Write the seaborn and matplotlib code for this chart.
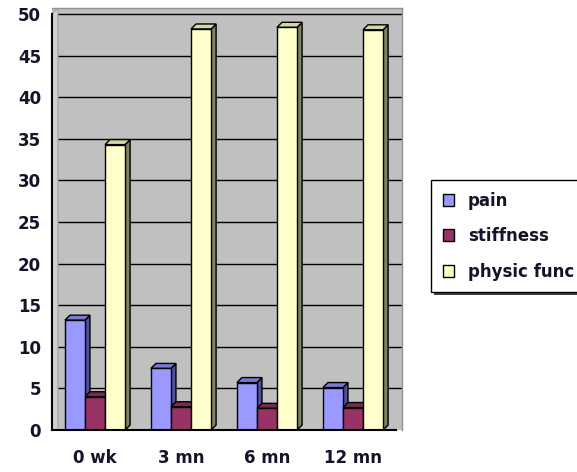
import matplotlib
matplotlib.use("Agg")
import matplotlib.pyplot as plt
from matplotlib.patches import Polygon, Patch
import numpy as np
import pandas as pd
import seaborn as sns

# Follow-up time points and mean scores per outcome
periods = ["0 wk", "3 mn", "6 mn", "12 mn"]
pain = [13.2, 7.4, 5.7, 5.1]
stiffness = [4.0, 2.8, 2.6, 2.7]
physic_func = [34.3, 48.2, 48.4, 48.1]
series_names = ["pain", "stiffness", "physic func"]
y_ticks = [0, 5, 10, 15, 20, 25, 30, 35, 40, 45, 50]

front_colors = ["#9999FF", "#993366", "#FFFFCC"]
side_colors = ["#50509A", "#5C1F3D", "#808066"]
top_colors = ["#7A7AD0", "#7A2952", "#D6D6A8"]

df = pd.DataFrame({
    "period": np.repeat(periods, 3),
    "series": series_names * len(periods),
    "score": [v for trio in zip(pain, stiffness, physic_func) for v in trio],
})

sns.set_theme(style="white")
plt.rcParams["font.family"] = ["DejaVu Sans"]

W, H = 577, 472
fig = plt.figure(figsize=(W / 100, H / 100), dpi=100)
fig.patch.set_facecolor("white")

# plot area (front axis plane starts at x=52, floor at y=430, value 50 at y=14)
left_px, right_px, top_px, bottom_px = 52, 402, 8, 430
ax = fig.add_axes([left_px / W, 1 - bottom_px / H,
                   (right_px - left_px) / W, (bottom_px - top_px) / H])
ax.set_facecolor("#C0C0C0")

sns.barplot(data=df, x="period", y="score", hue="series", order=periods,
            hue_order=series_names, palette=front_colors, saturation=1,
            width=0.7, gap=0, edgecolor="black", linewidth=1.0, legend=False,
            ax=ax, zorder=3)

cat_px = 86.0
px_per_unit = (430 - 14) / 50.0
ax.set_xlim(-0.5, 3.5 + (right_px - left_px - 4 * cat_px) / cat_px)
ax.set_ylim(0, 50 + (14 - top_px) / px_per_unit)

# 3-D depth faces for each bar
dx = 5 / cat_px
dy = 5 / px_per_unit
n_per = len(periods)
for i, bar in enumerate(ax.patches[: 3 * n_per]):
    s = i // n_per
    x0 = bar.get_x()
    w = bar.get_width()
    h = bar.get_height()
    x1 = x0 + w
    z = 3 + s
    bar.set_zorder(z + 0.5)
    side = Polygon([(x1, 0), (x1 + dx, dy), (x1 + dx, h + dy), (x1, h)],
                   closed=True, facecolor=side_colors[s], edgecolor="black",
                   linewidth=1.0, zorder=z)
    top = Polygon([(x0, h), (x0 + dx, h + dy), (x1 + dx, h + dy), (x1, h)],
                  closed=True, facecolor=top_colors[s], edgecolor="black",
                  linewidth=1.0, zorder=z)
    ax.add_patch(side)
    ax.add_patch(top)

# back-wall gridlines
for t in y_ticks[1:]:
    ax.axhline(t, color="black", linewidth=1.0, zorder=1)

# left side wall strip
wall = Polygon([(-0.5, 0), (-0.5 + 6 / cat_px, 0), (-0.5 + 6 / cat_px, ax.get_ylim()[1]),
                (-0.5, 50)], closed=True, facecolor="#CFCFCF", edgecolor="#A0A0A0",
               linewidth=0.8, zorder=1.5)
ax.add_patch(wall)

ax.set_yticks(y_ticks)
ax.set_yticklabels([str(t) for t in y_ticks])
ax.set_xticks(np.arange(-0.5, 4.0, 1.0))
ax.set_xticklabels([])
ax.set_xticks(np.arange(len(periods)), minor=True)
ax.set_xticklabels(periods, minor=True)
ax.set_xlabel("")
ax.set_ylabel("")

ax.tick_params(axis="y", which="major", direction="out", length=5, width=1.2,
               color="black", labelsize=12, labelcolor="#141428", pad=3)
ax.tick_params(axis="x", which="major", direction="out", length=5, width=1.2,
               color="black")
ax.tick_params(axis="x", which="minor", length=0, labelsize=12,
               labelcolor="#141428", pad=14)
for lab in ax.get_yticklabels() + ax.get_xticklabels(minor=True):
    lab.set_fontweight("bold")

for side_name in ["top", "right"]:
    ax.spines[side_name].set_color("#909090")
    ax.spines[side_name].set_linewidth(1.0)
ax.spines["left"].set_color("black")
ax.spines["left"].set_linewidth(1.5)
ax.spines["left"].set_bounds(0, 50)
ax.spines["bottom"].set_color("black")
ax.spines["bottom"].set_linewidth(1.5)
ax.spines["bottom"].set_bounds(-0.5, 3.5)
ax.spines["left"].set_zorder(6)
ax.spines["bottom"].set_zorder(6)

handles = [Patch(facecolor=c, edgecolor="black", linewidth=1.0) for c in front_colors]
leg = fig.legend(handles, series_names, loc="upper left",
                 bbox_to_anchor=(431 / W, 1 - 180 / H),
                 frameon=True, fancybox=False,
                 shadow={"color": "#404040", "alpha": 1, "linewidth": 0},
                 prop={"size": 12, "weight": "bold"}, labelspacing=1.05,
                 handlelength=0.7, handleheight=0.7, handletextpad=0.8,
                 borderpad=0.7, borderaxespad=0)
leg.get_frame().set_edgecolor("black")
leg.get_frame().set_linewidth(1.0)
for t in leg.get_texts():
    t.set_color("#141428")

fig.savefig("out.png", dpi=100)
